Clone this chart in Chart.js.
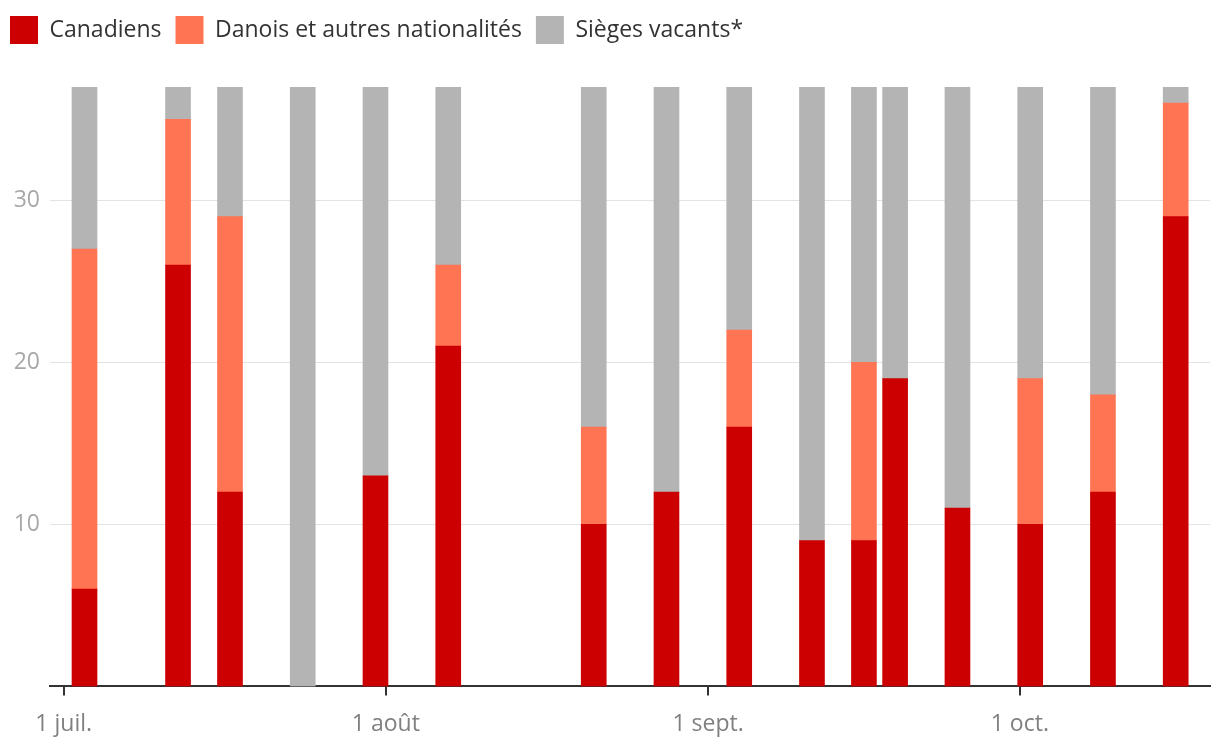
<!DOCTYPE html>
<html>
<head>
<meta charset="utf-8">
<script src="https://cdn.jsdelivr.net/npm/chart.js@4/dist/chart.umd.min.js"></script>
<style>
  body { margin: 0; background: #fff; }
  #wrap { width: 1220px; height: 754px; position: relative; }
</style>
</head>
<body>
<div id="wrap"><canvas id="chart"></canvas></div>
<script>
// dates of each flight (month-day)
const dates = ['07-03','07-12','07-17','07-24','07-31','08-07','08-21','08-28',
               '09-04','09-11','09-16','09-19','09-25','10-02','10-09','10-16']
const canadiens = [6, 26, 12, 0, 13, 21, 10, 12, 16, 9, 9, 19, 11, 10, 12, 29]
const danois    = [21, 9, 17, 0, 0, 5, 6, 0, 6, 0, 11, 0, 0, 9, 6, 7]
const vacants   = [10, 2, 8, 37, 24, 11, 21, 25, 15, 28, 17, 18, 26, 18, 19, 1]

const tickDays = [0, 31, 62, 92]
const tickLabels = ['1 juil.', '1 août', '1 sept.', '1 oct.']
const yTicks = [10, 20, 30]

// days since 1 July
function dayOf(s){
    const [m, d] = s.split('-').map(Number)
    return (Date.UTC(2021, m - 1, d) - Date.UTC(2021, 6, 1)) / 86400000
}
const days = dates.map(dayOf)
const pts = arr => arr.map((v, i) => ({x: days[i], y: v || null}))

const font = 'Open Sans'

const legendGap = {
    id: 'legendGap',
    beforeInit(chart){
        const fit = chart.legend.fit
        chart.legend.fit = function(){
            fit.bind(chart.legend)()
            this.height += 33
        }
    }
}

const ctx = document.getElementById('chart').getContext('2d')
new Chart(ctx, {
    type: 'bar',
    data: {
        datasets: [
            {label: 'Canadiens', data: pts(canadiens), backgroundColor: '#cc0000'},
            {label: 'Danois et autres nationalités', data: pts(danois), backgroundColor: '#ff7452'},
            {label: 'Sièges vacants*', data: pts(vacants), backgroundColor: '#b4b4b4'}
        ]
    },
    options: {
        responsive: true,
        maintainAspectRatio: false,
        animation: false,
        datasets: { bar: { barThickness: 25, borderWidth: 0 } },
        layout: { padding: { top: 2, right: 10, bottom: 1, left: -4 } },
        plugins: {
            legend: {
                position: 'top',
                align: 'start',
                labels: {
                    boxWidth: 28,
                    boxHeight: 28,
                    padding: 14,
                    color: '#333',
                    font: { family: font, size: 23 }
                }
            },
            tooltip: { enabled: false }
        },
        scales: {
            x: {
                type: 'linear',
                stacked: true,
                offset: false,
                z: 1,
                min: -1.32,
                max: 110.3,
                afterBuildTicks: s => { s.ticks = tickDays.map(v => ({value: v})) },
                ticks: {
                    autoSkip: false,
                    maxRotation: 0,
                    padding: 15,
                    color: '#808080',
                    font: { family: font, size: 23 },
                    callback: v => tickLabels[tickDays.indexOf(v)]
                },
                grid: {
                    offset: false,
                    drawOnChartArea: false,
                    drawTicks: true,
                    tickLength: 9,
                    color: '#333',
                    lineWidth: 2
                },
                border: { color: '#333', width: 2 }
            },
            y: {
                stacked: true,
                min: 0,
                max: 37,
                afterBuildTicks: s => { s.ticks = yTicks.map(v => ({value: v})) },
                afterFit: s => { s.width = 54 },
                ticks: {
                    padding: 10,
                    color: '#a8a8a8',
                    font: { family: font, size: 23 }
                },
                grid: { color: '#e3e3e3', lineWidth: 1, drawTicks: false },
                border: { display: false }
            }
        }
    },
    plugins: [legendGap]
})
</script>
</body>
</html>
